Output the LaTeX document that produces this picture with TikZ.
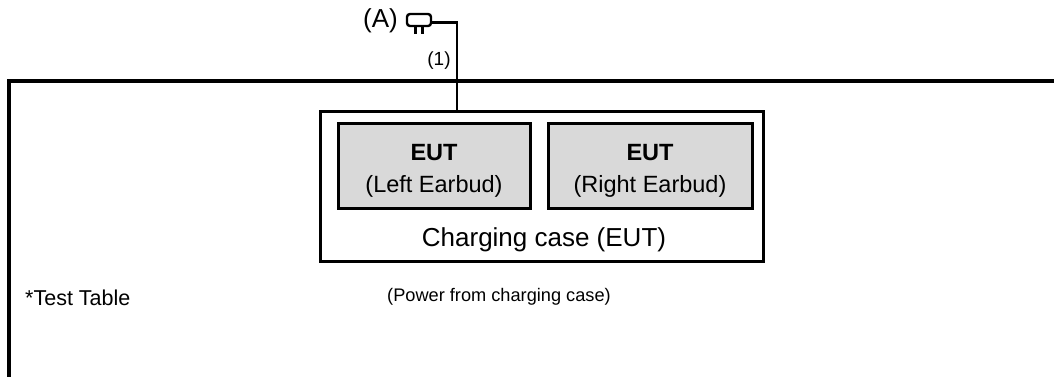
\documentclass[tikz,border=0pt]{standalone}
\usepackage{fontspec}
\setmainfont{Liberation Sans}
\definecolor{boxgray}{RGB}{217,217,217}
\begin{document}
\begin{tikzpicture}[x=1pt,y=-1pt,
  budbox/.style={draw=black,fill=boxgray,line width=3pt,minimum height=85pt,inner sep=0pt},
  wire/.style={draw=black,line width=2.3pt},
  lbl/.style={inner sep=0pt,font=\fontsize{19}{22}\selectfont},
  budtxt/.style={inner sep=0pt,font=\fontsize{23.5}{27}\selectfont}
]
\useasboundingbox (0,0) rectangle (1054,376);
\begin{scope}
\clip (0,0) rectangle (1054,376);
\coordinate (tbl) at (9,81);
\draw[line width=3.3pt] (9,390) -- (tbl) -- (1070,81);
\end{scope}

% charging case
\node[draw=black,line width=3pt,minimum width=443pt,minimum height=150pt,inner sep=0pt] (case) at (541.5,186) {};
\node[budbox,minimum width=192pt] (left) at (434,165.5) {};
\node[budbox,minimum width=204pt] (right) at (650,165.5) {};
\node[budtxt,font=\fontsize{23.5}{27}\selectfont\bfseries] (eutL) at (434,153) {EUT};
\node[budtxt] (txtL) at (434,186) {(Left Earbud)};
\node[budtxt,font=\fontsize{23.5}{27}\selectfont\bfseries] (eutR) at (650,153) {EUT};
\node[budtxt] (txtR) at (650,186) {(Right Earbud)};
\node[inner sep=0pt,font=\fontsize{26}{30}\selectfont] (casetxt) at (544,240) {Charging case (EUT)};

% plug
\node[draw=black,line width=2.4pt,rounded corners=3pt,minimum width=24pt,minimum height=12pt,inner sep=0pt] (plug) at (419,20) {};
\draw[line width=2.4pt] ([xshift=-3.5pt]plug.south) -- ++(0,7);
\draw[line width=2.4pt] ([xshift=3.5pt]plug.south) -- ++(0,7);
\node[inner sep=0pt,anchor=east,font=\fontsize{26}{30}\selectfont] (A) at (398,21) {(A)};
\coordinate (corner) at (457,22.5);
\draw[wire] (plug.east |- corner) -- (corner) -- (corner |- case.north);
\node[lbl] (one) at (439,61) {(1)};

\node[inner sep=0pt,anchor=west,font=\fontsize{21.5}{25}\selectfont] (tt) at (25,298) {*Test Table};
\node[inner sep=0pt,font=\fontsize{18.2}{22}\selectfont] (pw) at (499,297) {(Power from charging case)};
\end{tikzpicture}
\end{document}
